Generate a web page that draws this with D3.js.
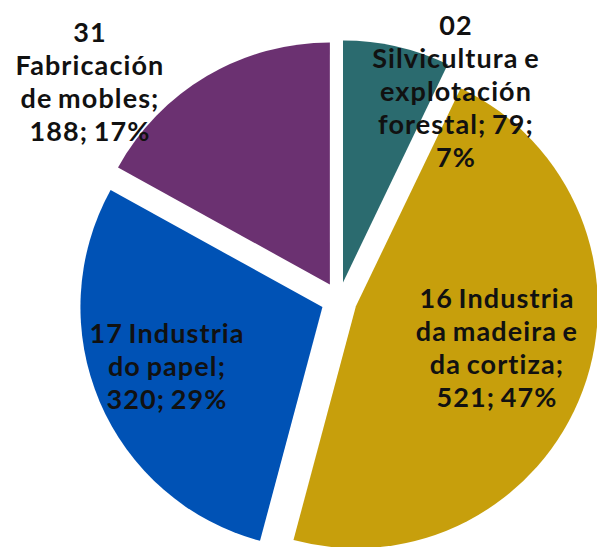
<!DOCTYPE html>
<html>
<head>
<meta charset="utf-8">
<script src="https://cdn.jsdelivr.net/npm/d3@7/dist/d3.min.js"></script>
<style>
  html, body { margin: 0; padding: 0; background: #fff; }
  svg { display: block; }
  text { font-family: Lato, "Noto Sans", sans-serif; font-weight: 700; fill: #111; letter-spacing: 1.1px; word-spacing: -2px; }
</style>
</head>
<body>
<svg id="chart" width="597" height="547"></svg>
<script>
// ---- data ----
const categories = ["02", "16", "17", "31"];
const labelLines = [
  ["02", "Silvicultura e", "explotación", "forestal; 79;", "7%"],
  ["16 Industria", "da madeira e", "da cortiza;", "521; 47%"],
  ["17 Industria", "do papel;", "320; 29%"],
  ["31", "Fabricación", "de mobles;", "188; 17%"]
];
const values = [79, 521, 320, 188];
const colors = ["#2b6b6f", "#c79f0c", "#0052b5", "#6b3171"];

// ---- layout ----
const W = 597, H = 547;
const cx = 339, cy = 300, R = 242, explode = 18;
const labelAnchors = [[456, 35], [497, 308], [167, 343], [90, 42]];
const lineGap = 33;

const svg = d3.select("#chart");
const pie = d3.pie().sort(null).value(d => d.value);
const arcs = pie(categories.map((c, i) => ({ cat: c, value: values[i], i })));
const arc = d3.arc().innerRadius(0).outerRadius(R);

const g = svg.append("g").attr("transform", `translate(${cx},${cy})`);
g.selectAll("path")
  .data(arcs)
  .join("path")
  .attr("d", arc)
  .attr("fill", d => colors[d.data.i])
  .attr("transform", d => {
    const a = (d.startAngle + d.endAngle) / 2;
    return `translate(${explode * Math.sin(a)},${-explode * Math.cos(a)})`;
  });

const lab = svg.append("g").attr("font-size", 27).attr("text-anchor", "middle");
arcs.forEach(d => {
  const i = d.data.i;
  const [x, y] = labelAnchors[i];
  const t = lab.append("text").attr("x", x).attr("y", y);
  labelLines[i].forEach((line, k) => {
    t.append("tspan").attr("x", x).attr("y", y + k * lineGap).text(line);
  });
});
</script>
</body>
</html>
